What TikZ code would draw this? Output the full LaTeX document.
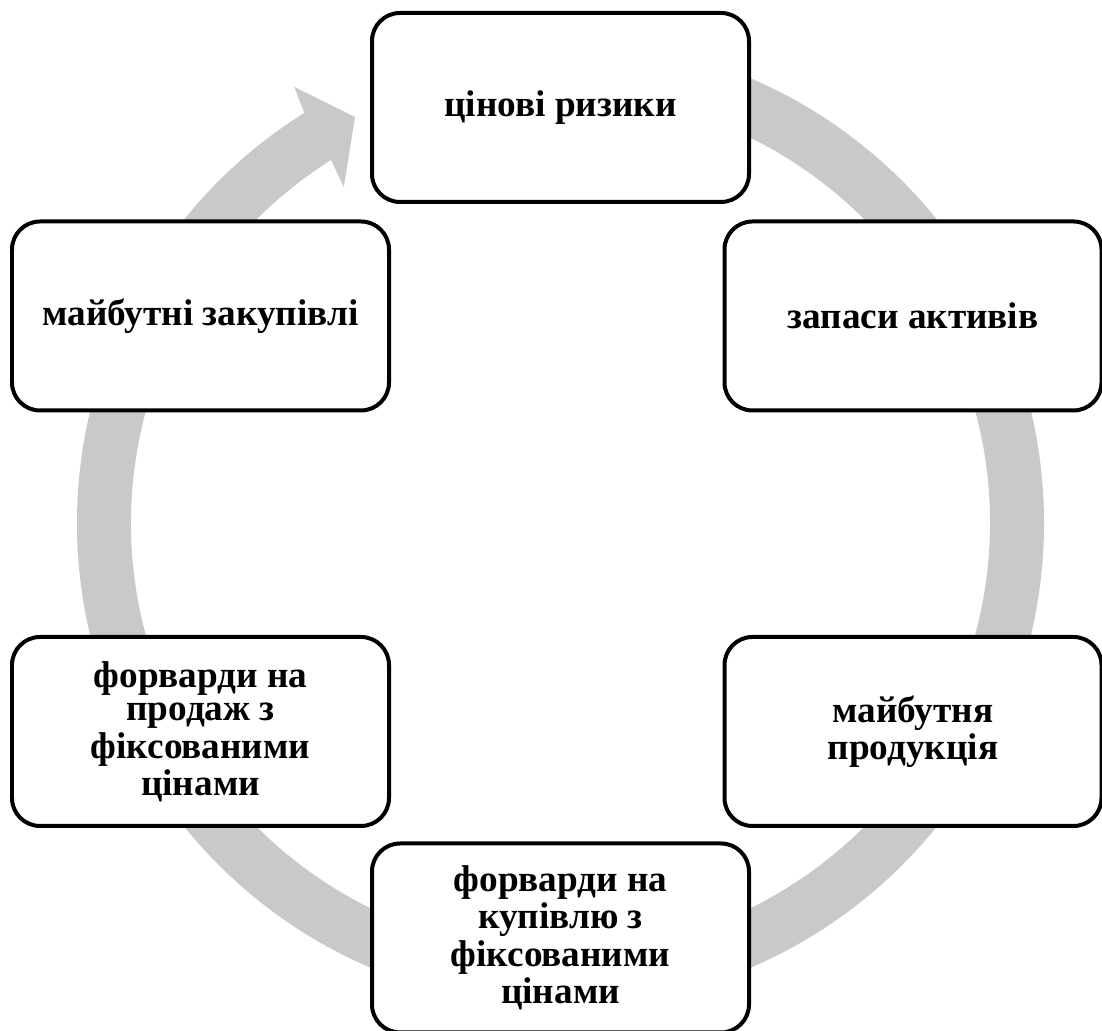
\documentclass[tikz,border=0pt]{standalone}
\usepackage{fontspec}
\setmainfont{Liberation Serif}
\usepackage{tikz}
\definecolor{ringgray}{RGB}{201,201,201}

\begin{document}
\begin{tikzpicture}[box/.style={draw, rectangle, rounded corners=0.28cm, line width=0.04cm, fill=white, minimum width=3.77cm, minimum height=1.89cm, align=center, font=\fontsize{10.6}{9.6}\selectfont\bfseries}]
            \useasboundingbox (0,0) rectangle (11.02,10.31);
            % ring with arrow head
            \begin{scope}[shift={(5.605,5.08)}]
                \fill[ringgray] (90:4.835) arc[start angle=90, end angle=-238, radius=4.835]
                    -- (-238.6:5.11) -- (-243.15:4.55) -- (-237.2:4.0) -- (-237.7:4.295)
                    arc[start angle=-237.7, end angle=90, radius=4.295] -- cycle;
            \end{scope}
            % nodes
            \node[box] (risk) at (5.605,9.235) {цінові ризики};
            \node[box] (stock) at (9.13,7.15) {запаси активів};
            \node[box] (prod) at (9.13,2.995) {майбутня\\продукція};
            \node[box] (buy) at (5.605,0.93) {форварди на\\купівлю з\\фіксованими\\цінами};
            \node[box] (sell) at (2.005,2.995) {форварди на\\продаж з\\фіксованими\\цінами};
            \node[box] (purch) at (2.005,7.15) {майбутні закупівлі};
        \end{tikzpicture}
\end{document}
